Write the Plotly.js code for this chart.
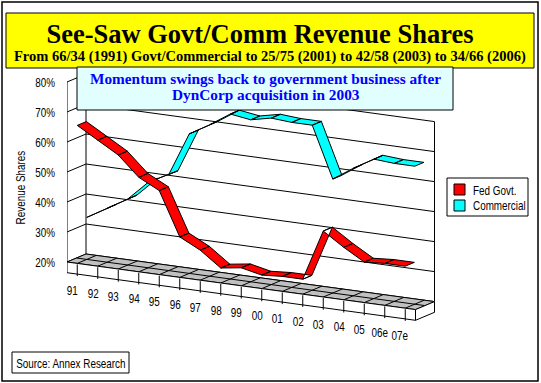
<!DOCTYPE html>
<html><head><meta charset="utf-8">
<script src="https://cdn.plot.ly/plotly-3.0.1.min.js"></script>
<style>html,body{margin:0;padding:0;background:#fff}</style>
</head><body>
<div id="chart" style="width:541px;height:383px"></div>
<script>
// ---- data ----
const categories = ['91','92','93','94','95','96','97','98','99','00','01','02','03','04','05','06e','07e'];
const fedGovt    = [66, 62, 58, 51.5, 48, 33.5, 30, 25, 26, 24.5, 25, 25, 42, 37.5, 33.5, 34, 34];
const commercial = [34, 38, 42, 48.5, 52, 66.5, 70.5, 75, 74, 75.5, 75, 75, 58, 62.5, 66.5, 66, 66];
const seriesNames = ['Fed Govt.', 'Commercial'];
const yTicks = [20, 30, 40, 50, 60, 70, 80];
const yTickText = ['20%', '30%', '40%', '50%', '60%', '70%', '80%'];

// ---- geometry (oblique 3-D look) ----
const W = 541, H = 383;
const PX_PER_CAT = 20.5, PX_PER_PCT = 3;
const SHEAR = 2.8 / PX_PER_PCT;      // % drop per category (perspective tilt)
const DEPTH_X = 19 / PX_PER_CAT;     // back-wall offset in category units
const DEPTH_Y = 8 / PX_PER_PCT;      // back-wall offset in % units
const FLOOR_T = 10.7 / PX_PER_PCT;   // floor thickness
const FLOOR = yTicks[0], TOP = yTicks[yTicks.length - 1];
const n = categories.length, last = n - 1;

function P(i, v, d) { return [i + d * DEPTH_X, v - SHEAR * (i + 0.5) + d * DEPTH_Y]; }
function down(p, t) { return [p[0], p[1] - t]; }
function path(pts) { return 'M' + pts.map(p => p[0] + ',' + p[1]).join('L') + 'Z'; }
function dline(a, b) {
  return {type:'line', xref:'x', yref:'y', x0:a[0], y0:a[1], x1:b[0], y1:b[1],
          line:{color:'#000', width:1}, layer:'below'};
}
function dpoly(pts, fill) {
  return {type:'path', xref:'x', yref:'y', path:path(pts), fillcolor:fill,
          line:{color:'#000', width:1}, layer:'below'};
}
const px = x => x / W, py = y => 1 - y / H;
function prect(x0, y0, x1, y1, fill, lw) {
  return {type:'rect', xref:'paper', yref:'paper', x0:px(x0), x1:px(x1), y0:py(y0), y1:py(y1),
          fillcolor:fill, line:{color:'#000', width:lw === undefined ? 1 : lw}, layer:'above'};
}

function ribbon(vals, d0, w, color, name) {
  const xs = [], ys = [];
  for (let i = 0; i < vals.length - 1; i++) {
    const pts = [P(i, vals[i], d0), P(i + 1, vals[i + 1], d0), P(i + 1, vals[i + 1], d0 + w), P(i, vals[i], d0 + w), P(i, vals[i], d0)];
    pts.forEach(p => { xs.push(p[0]); ys.push(p[1]); });
    xs.push(null); ys.push(null);
  }
  return {type:'scatter', mode:'lines', x:xs, y:ys, fill:'toself', fillcolor:color,
          line:{color:'#000', width:1}, name:name, showlegend:false, hoverinfo:'skip'};
}

const shapes = [];
// walls: gridlines on side wall + back wall
yTicks.forEach(v => {
  shapes.push(dline(P(-0.5, v, 0), P(-0.5, v, 1)));
  shapes.push(dline(P(-0.5, v, 1), P(last + 0.5, v, 1)));
});
shapes.push(dline(P(-0.5, TOP, 0), down(P(-0.5, FLOOR, 0), FLOOR_T)));
shapes.push(dline(P(-0.5, TOP, 1), P(-0.5, FLOOR, 1)));
shapes.push(dline(P(last + 0.5, TOP, 1), down(P(last + 0.5, FLOOR, 1), FLOOR_T)));
// floor
shapes.push(dpoly([P(-0.5, FLOOR, 0), P(last + 0.5, FLOOR, 0), P(last + 0.5, FLOOR, 1), P(-0.5, FLOOR, 1)], '#C0C0C0'));
for (let i = 0; i < n; i++) shapes.push(dline(P(i, FLOOR, 0), P(i, FLOOR, 1)));
shapes.push(dline(P(-0.5, FLOOR, 0.5), P(last + 0.5, FLOOR, 0.5)));
shapes.push(dpoly([P(-0.5, FLOOR, 0), P(last + 0.5, FLOOR, 0), down(P(last + 0.5, FLOOR, 0), FLOOR_T), down(P(-0.5, FLOOR, 0), FLOOR_T)], '#FFFFFF'));
shapes.push(dpoly([P(last + 0.5, FLOOR, 0), P(last + 0.5, FLOOR, 1), down(P(last + 0.5, FLOOR, 1), FLOOR_T), down(P(last + 0.5, FLOOR, 0), FLOOR_T)], '#FFFFFF'));
for (let i = 0; i < n; i++) shapes.push(dline(down(P(i, FLOOR, 0), 1 / PX_PER_PCT), down(P(i, FLOOR, 0), FLOOR_T + 2 / PX_PER_PCT)));

// page furniture
shapes.push(prect(2, 2, 538, 381, 'rgba(0,0,0,0)', 1.5));
shapes.push(prect(6, 13, 534, 68, '#FFFF00'));
shapes.push(prect(77, 67, 453, 110, '#E2FFFF'));
shapes.push(prect(447, 178, 528, 216, '#FFFFFF'));
shapes.push(prect(454, 184, 465, 195, '#FF0000'));
shapes.push(prect(454, 200, 465, 211, '#00FFFF'));
shapes.push(prect(12, 352, 129, 373, '#FFFFFF'));

const narrow = "'Liberation Sans', Arial, sans-serif";
const serif = "'Liberation Serif', 'Times New Roman', serif";
const NS = 13;
const ann = [];
categories.forEach((c, i) => {
  const p = P(i, FLOOR, 0);
  ann.push({xref:'x', yref:'y', x:p[0], y:p[1], xshift:-5, yshift:-27, text:c, showarrow:false,
            font:{family:narrow, size:NS, color:'#000'}});
});
function pa(x, y, text, font, anchor) {
  return {xref:'paper', yref:'paper', x:px(x), y:py(y), text:text, showarrow:false,
          xanchor:anchor || 'center', align:anchor || 'center', yanchor:'middle', font:font};
}
ann.push(pa(270, 57, '<b>From 66/34 (1991) Govt/Commercial to 25/75 (2001) to 42/58 (2003) to 34/66 (2006)</b>', {family:serif, size:14.5, color:'#000'}));
ann.push(pa(265, 78, '<b>Momentum swings back to government business after</b>', {family:serif, size:15.3, color:'#0000FF'}));
ann.push(pa(266, 94, '<b>DynCorp acquisition in 2003</b>', {family:serif, size:15.3, color:'#0000FF'}));
ann.push(pa(471, 190, seriesNames[0], {family:narrow, size:NS, color:'#000'}, 'left'));
ann.push(pa(471, 205.5, seriesNames[1], {family:narrow, size:NS, color:'#000'}, 'left'));
ann.push(pa(71, 363, 'Source: Annex Research', {family:narrow, size:NS, color:'#000'}));
ann.push(Object.assign(pa(20, 188, 'Revenue Shares', {family:narrow, size:NS, color:'#000'}), {textangle:-90}));

const yBot = 330, yTop = 60;
const Yof = pyv => FLOOR + (262 - pyv) / PX_PER_PCT;
const layout = {
  width:W, height:H, margin:{l:0, r:0, t:0, b:0}, paper_bgcolor:'#fff', plot_bgcolor:'rgba(0,0,0,0)',
  showlegend:false,
  title:{text:'<b>See-Saw Govt/Comm Revenue Shares</b>', font:{family:serif, size:26.5, color:'#000'},
         xref:'container', yref:'container', x:260 / W, xanchor:'center', y:py(34), yanchor:'middle'},
  xaxis:{domain:[67 / W, 440 / W], range:[-0.5, -0.5 + 373 / PX_PER_CAT], visible:false, fixedrange:true},
  yaxis:{domain:[py(yBot), py(yTop)], range:[Yof(yBot), Yof(yTop)], showgrid:false, zeroline:false, showline:false,
         tickvals:yTicks, ticktext:yTickText, ticks:'', ticklabelstandoff:11, automargin:false,
         tickfont:{family:narrow, size:NS, color:'#000'}, fixedrange:true},
  shapes:shapes, annotations:ann
};
const traces = [ribbon(commercial, 0.5, 0.48, '#00FFFF', seriesNames[1]), ribbon(fedGovt, 0, 0.48, '#FF0000', seriesNames[0])];
Plotly.newPlot('chart', traces, layout, {staticPlot:true, displayModeBar:false}).then(gd => {
  // emulate a narrow (condensed) sans face: compress Liberation Sans text horizontally
  gd.querySelectorAll('text').forEach(t => {
    const fam = (t.style.fontFamily || '');
    if (fam.indexOf('Liberation Sans') >= 0) {
      const w = t.getComputedTextLength();
      if (w > 0) {
        t.setAttribute('textLength', (w * 0.76).toFixed(2));
        t.setAttribute('lengthAdjust', 'spacingAndGlyphs');
      }
    }
  });
});
</script>
</body></html>
